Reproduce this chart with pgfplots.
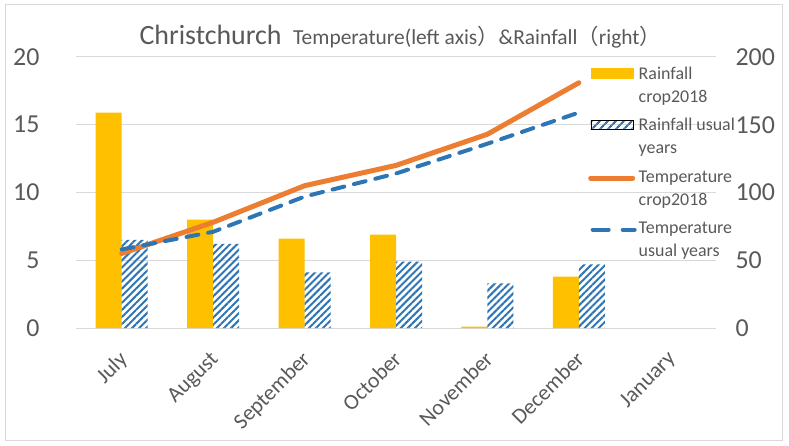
\documentclass[border=0pt]{standalone}
\usepackage{fontspec}
\setmainfont{Carlito}
\newfontfamily\cjk{Noto Sans CJK JP}
\usepackage{pgfplots}
\pgfplotsset{compat=1.18}
\usetikzlibrary{patterns.meta}
\definecolor{rainY}{HTML}{FFC000}
\definecolor{hatchB}{HTML}{2E75B6}
\definecolor{tempO}{HTML}{ED7D31}
\definecolor{tempB}{HTML}{2E75B6}
\definecolor{txt}{HTML}{595959}
\definecolor{gridc}{HTML}{D9D9D9}
\begin{document}
\begin{tikzpicture}
\pgfplotsset{
  common/.style={scale only axis, width=640bp, height=271bp,
    xmin=-0.5, xmax=6.5, axis line style={draw=none},
    major tick length=0pt, clip=false,
    /pgf/number format/assume math mode=true},
}
% ---- bars, right axis ----
\begin{axis}[common, ybar=0pt, bar width=26bp,
  ymin=0, ymax=200, ytick={0,50,...,200},
  ymajorgrids, grid style={gridc, line width=1bp},
  ytick pos=right, yticklabel pos=right,
  yticklabel style={font=\fontsize{26}{26}\selectfont, text=txt, xshift=16bp},
  xtick={0,...,6},
  xticklabels={July,August,September,October,November,December,January},
  xticklabel style={xshift=-4bp, yshift=-17bp, rotate=45, anchor=north east, font=\fontsize{22}{22}\selectfont, text=txt},
]
\addplot[fill=rainY, draw=none] coordinates {(0,159) (1,80) (2,66) (3,69) (4,1) (5,38)};
\addplot[pattern={Lines[angle=45,distance=5bp,line width=2bp]}, pattern color=hatchB, draw=none]
  coordinates {(0,65) (1,62) (2,41) (3,49) (4,33) (5,47)};
\coordinate (O) at (rel axis cs:0,0);
\end{axis}
% ---- lines, left axis ----
\begin{axis}[common,
  ymin=0, ymax=20, ytick={0,5,...,20},
  ytick pos=left,
  yticklabel style={font=\fontsize{26}{26}\selectfont, text=txt, xshift=-33bp},
  xtick=\empty,
  legend style={at={(0.8,0.985)}, anchor=north west, draw=none, fill=none,
    font=\fontsize{18}{23}\selectfont, text=txt, row sep=30bp,
    inner sep=0pt},
  legend cell align=left,
]
\addlegendimage{legend image code/.code={\fill[rainY] (0bp,-6bp) rectangle (42bp,4bp);}}
\addlegendentry{\begin{tabular}[t]{@{}l@{}}Rainfall\\crop2018\end{tabular}}
\addlegendimage{legend image code/.code={\fill[pattern={Lines[angle=45,distance=6bp,line width=2.5bp]}, pattern color=hatchB] (0bp,-6bp) rectangle (42bp,3bp);}}
\addlegendentry{\begin{tabular}[t]{@{}l@{}}Rainfall usual\\years\end{tabular}}
\addplot[tempO, line width=5bp, line cap=round, line join=round,
  legend image code/.code={\draw[tempO, line width=5bp, line cap=round] (0bp,-3bp) -- (42bp,-3bp);}]
  coordinates {(0,5.5) (1,7.8) (2,10.5) (3,12.0) (4,14.3) (5,18.1)};
\addlegendentry{\begin{tabular}[t]{@{}l@{}}Temperature\\crop2018\end{tabular}}
\addplot[tempB, line width=4bp, line cap=round, dash pattern=on 12bp off 10bp,
  legend image code/.code={\draw[tempB, line width=4bp, line cap=round, dash pattern=on 16bp off 14bp] (2bp,-3bp) -- (44bp,-3bp);}]
  coordinates {(0,5.8) (1,7.1) (2,9.7) (3,11.4) (4,13.6) (5,15.9)};
\addlegendentry{\begin{tabular}[t]{@{}l@{}}Temperature\\usual years\end{tabular}}
\end{axis}
% ---- title ----
\node[anchor=base west, font=\fontsize{28}{28}\selectfont, text=txt] at ([shift={(60bp,283bp)}]O) {Christchurch};
\node[anchor=base west, font=\fontsize{21.5}{21.5}\selectfont, text=txt, inner sep=0pt] at ([shift={(217bp,283bp)}]O) {Temperature(left axis{\cjk ）}\&Rainfall{\cjk （}right{\cjk ）}};
% ---- frame ----
\pgfresetboundingbox
\draw[gridc, line width=1bp] ([shift={(-70bp,-112bp)}]O) rectangle ([shift={(706bp,323bp)}]O);
\useasboundingbox ([shift={(-76bp,-118bp)}]O) rectangle ([shift={(713bp,328bp)}]O);
\end{tikzpicture}
\end{document}
